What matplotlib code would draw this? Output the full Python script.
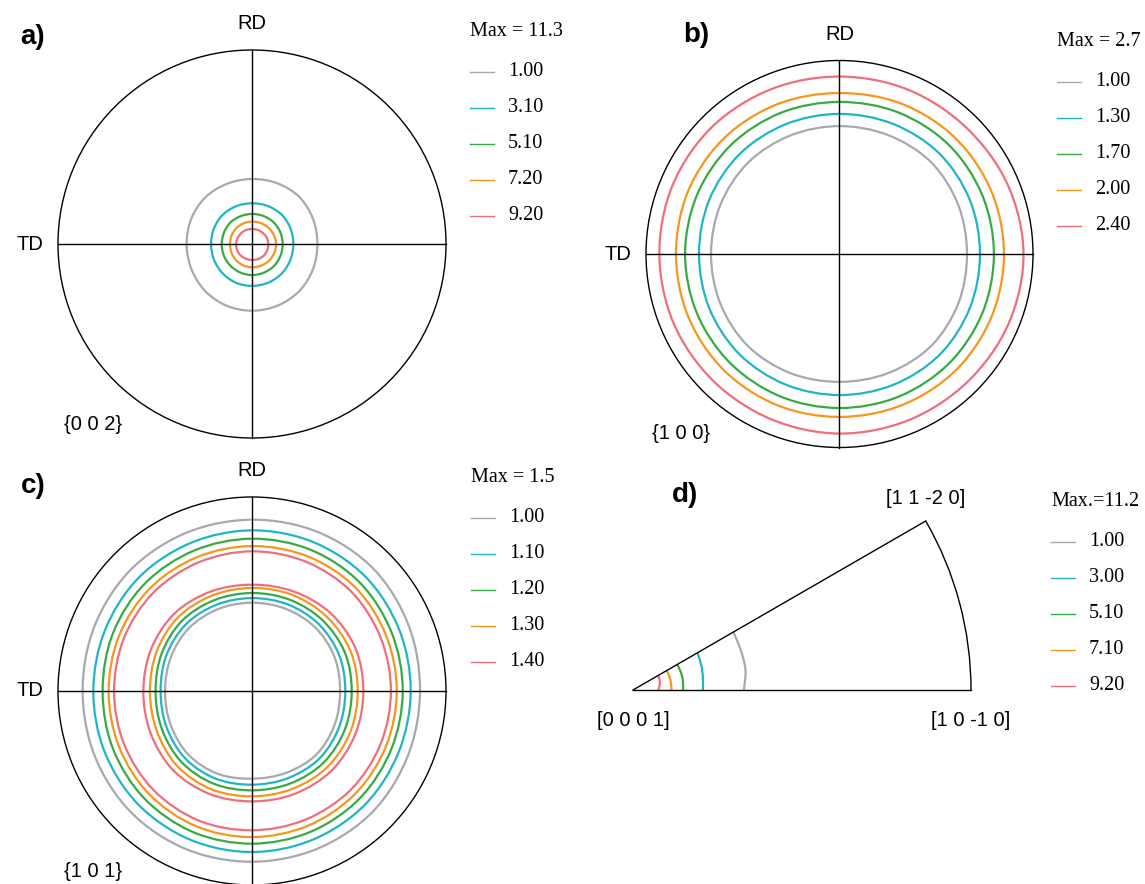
import numpy as np
import matplotlib.pyplot as plt
from matplotlib.patches import Circle, Arc, PathPatch
from matplotlib.path import Path
from matplotlib.lines import Line2D

W, H = 1145, 884
SANS = "Liberation Sans"
SERIF = "Liberation Serif"

# contour colours, lowest level first
COLORS = ["#a8a8b0", "#1fb5c6", "#38a947", "#f5961e", "#ee6e7b"]

# pole-figure contours: radius (fraction of the primitive circle) every 22.5 deg, CCW from TD+
ANGLES = np.arange(0, 360, 22.5)

# (a) {0 0 2}
a_max = "Max = 11.3"
a_levels = ["1.00", "3.10", "5.10", "7.20", "9.20"]
a_r1 = [0.337, 0.340, 0.344, 0.339, 0.335, 0.336, 0.340, 0.339, 0.337, 0.338, 0.342, 0.344, 0.344, 0.344, 0.344, 0.340]
a_r2 = [0.213, 0.214, 0.215, 0.212, 0.210, 0.211, 0.213, 0.212, 0.211, 0.212, 0.214, 0.216, 0.216, 0.216, 0.216, 0.214]
a_r3 = [0.158, 0.158, 0.158, 0.156, 0.155, 0.155, 0.157, 0.156, 0.156, 0.157, 0.158, 0.159, 0.160, 0.160, 0.160, 0.159]
a_r4 = [0.124, 0.122, 0.119, 0.117, 0.115, 0.115, 0.115, 0.114, 0.113, 0.115, 0.117, 0.119, 0.120, 0.121, 0.123, 0.124]
a_r5 = [0.084, 0.083, 0.080, 0.078, 0.077, 0.078, 0.079, 0.080, 0.082, 0.083, 0.083, 0.082, 0.082, 0.084, 0.085, 0.085]

# (b) {1 0 0}
b_max = "Max = 2.7"
b_levels = ["1.00", "1.30", "1.70", "2.00", "2.40"]
b_r1 = [0.659, 0.664, 0.670, 0.664, 0.661, 0.663, 0.668, 0.666, 0.664, 0.667, 0.671, 0.666, 0.661, 0.665, 0.671, 0.665]
b_r2 = [0.726, 0.729, 0.732, 0.727, 0.724, 0.726, 0.730, 0.729, 0.726, 0.729, 0.732, 0.730, 0.729, 0.731, 0.734, 0.729]
b_r3 = [0.798, 0.798, 0.798, 0.792, 0.786, 0.790, 0.795, 0.797, 0.798, 0.798, 0.798, 0.797, 0.796, 0.798, 0.800, 0.799]
b_r4 = [0.850, 0.849, 0.847, 0.840, 0.832, 0.838, 0.845, 0.847, 0.845, 0.846, 0.847, 0.845, 0.842, 0.845, 0.850, 0.850]
b_r5 = [0.951, 0.940, 0.925, 0.920, 0.917, 0.922, 0.930, 0.933, 0.931, 0.929, 0.925, 0.924, 0.928, 0.930, 0.935, 0.945]

# (c) {1 0 1} - every level closes twice: outer ring and inner ring
c_max = "Max = 1.5"
c_levels = ["1.00", "1.10", "1.20", "1.30", "1.40"]
c_out1 = [0.866, 0.875, 0.888, 0.887, 0.883, 0.883, 0.884, 0.878, 0.873, 0.877, 0.883, 0.883, 0.880, 0.880, 0.880, 0.870]
c_out2 = [0.818, 0.822, 0.830, 0.830, 0.828, 0.826, 0.826, 0.820, 0.818, 0.822, 0.828, 0.830, 0.830, 0.828, 0.826, 0.819]
c_out3 = [0.777, 0.780, 0.788, 0.788, 0.785, 0.783, 0.782, 0.776, 0.770, 0.776, 0.784, 0.788, 0.787, 0.786, 0.784, 0.778]
c_out4 = [0.746, 0.748, 0.754, 0.751, 0.747, 0.746, 0.746, 0.742, 0.739, 0.743, 0.751, 0.754, 0.753, 0.752, 0.751, 0.747]
c_out5 = [0.716, 0.718, 0.724, 0.722, 0.720, 0.718, 0.718, 0.714, 0.711, 0.714, 0.720, 0.722, 0.718, 0.718, 0.720, 0.717]
c_in1 = [0.454, 0.460, 0.462, 0.458, 0.455, 0.457, 0.459, 0.453, 0.448, 0.454, 0.464, 0.462, 0.452, 0.457, 0.466, 0.460]
c_in2 = [0.481, 0.486, 0.487, 0.483, 0.479, 0.481, 0.484, 0.478, 0.471, 0.478, 0.489, 0.489, 0.483, 0.486, 0.492, 0.486]
c_in3 = [0.514, 0.518, 0.515, 0.509, 0.505, 0.507, 0.511, 0.504, 0.497, 0.504, 0.516, 0.517, 0.512, 0.516, 0.522, 0.518]
c_in4 = [0.545, 0.548, 0.543, 0.537, 0.531, 0.533, 0.538, 0.532, 0.526, 0.532, 0.546, 0.548, 0.543, 0.546, 0.552, 0.549]
c_in5 = [0.574, 0.577, 0.570, 0.556, 0.548, 0.555, 0.565, 0.563, 0.560, 0.566, 0.576, 0.574, 0.569, 0.574, 0.580, 0.577]

# (d) inverse pole figure, radius from [0 0 0 1] at 0/10/20/30 deg
IPF_ANGLES = [0, 10, 20, 30]
d_max = "Max.=11.2"
d_levels = ["1.00", "3.00", "5.10", "7.10", "9.20"]
d_r1 = [0.328, 0.338, 0.340, 0.343]
d_r2 = [0.207, 0.210, 0.215, 0.220]
d_r3 = [0.148, 0.150, 0.151, 0.151]
d_r4 = [0.114, 0.114, 0.115, 0.115]
d_r5 = [0.075, 0.080, 0.084, 0.086]

fig = plt.figure(figsize=(W / 100, H / 100), dpi=100)
fig.patch.set_facecolor("white")


def smooth_path(x, y, closed):
    """Catmull-Rom curve through the points, as cubic Bezier segments."""
    pts = np.column_stack([x, y])
    n = len(pts)
    if closed:
        ext = np.vstack([pts[-1], pts, pts[0], pts[1]])
        nseg = n
    else:
        ext = np.vstack([pts[0], pts, pts[-1]])
        nseg = n - 1
    verts = [ext[1]]
    codes = [Path.MOVETO]
    for i in range(1, nseg + 1):
        p0, p1, p2, p3 = ext[i - 1], ext[i], ext[i + 1], ext[i + 2]
        verts += [p1 + (p2 - p0) / 6, p2 - (p3 - p1) / 6, p2]
        codes += [Path.CURVE4] * 3
    return Path(verts, codes)


def px_axes(x0, y0, sx, sy, xlim, ylim):
    """Axes whose data origin sits at pixel (x0, y0); sx, sy = pixels per data unit."""
    left = x0 + xlim[0] * sx
    bottom = y0 - ylim[0] * sy
    ax = fig.add_axes([left / W, 1 - bottom / H,
                       (xlim[1] - xlim[0]) * sx / W, (ylim[1] - ylim[0]) * sy / H])
    ax.set_xlim(*xlim)
    ax.set_ylim(*ylim)
    ax.axis("off")
    return ax


def pole_figure(cx, cy, r, rings, hkl):
    ax = px_axes(cx, cy, r, r, (-1.2, 1.2), (-1.2, 1.2))
    ax.add_patch(Circle((0, 0), 1, fill=False, ec="black", lw=1.0))
    ax.plot([-1, 1], [0, 0], color="black", lw=1.0)
    ax.plot([0, 0], [-1, 1], color="black", lw=1.0)
    th = np.deg2rad(ANGLES)
    for radii, col in rings:
        rr = np.array(radii)
        path = smooth_path(rr * np.cos(th), rr * np.sin(th), closed=True)
        ax.add_patch(PathPatch(path, fill=False, ec=col, lw=1.6))
    ax.text(0, 1.135, "RD", family=SANS, fontsize=14.5, ha="center", va="center")
    ax.text(-1.075, 0, "TD", family=SANS, fontsize=14.5, ha="right", va="center")
    ax.text(-0.82, -0.93, hkl, family=SANS, fontsize=14.5, ha="center", va="center")
    return ax


def legend_block(x, y, title, labels):
    fig.text(x / W, 1 - y / H, title, family=SERIF, fontsize=14.5, ha="left", va="center")
    for i, (lab, col) in enumerate(zip(labels, COLORS)):
        yy = 1 - (y + 40 + 36 * i) / H
        fig.add_artist(Line2D([x / W, (x + 24) / W], [yy, yy], color=col, lw=1.0,
                              transform=fig.transFigure))
        fig.text((x + 38) / W, yy, lab, family=SERIF, fontsize=14.5, ha="left", va="center")


def panel_letter(x, y, s):
    fig.text(x / W, 1 - y / H, s, family=SANS, fontsize=20, fontweight="bold",
             ha="center", va="center")


# a) {0 0 2}
pole_figure(252, 244, 194,
            list(zip([a_r1, a_r2, a_r3, a_r4, a_r5], COLORS)), "{0 0 2}")
legend_block(470, 32, a_max, a_levels)
panel_letter(33, 37, "a)")

# b) {1 0 0}
pole_figure(839.5, 254, 193.5,
            list(zip([b_r1, b_r2, b_r3, b_r4, b_r5], COLORS)), "{1 0 0}")
legend_block(1057, 42, b_max, b_levels)
panel_letter(696, 35, "b)")

# c) {1 0 1}
pole_figure(252, 691, 194,
            list(zip([c_out1, c_out2, c_out3, c_out4, c_out5], COLORS))
            + list(zip([c_in1, c_in2, c_in3, c_in4, c_in5], COLORS)), "{1 0 1}")
legend_block(471, 478, c_max, c_levels)
panel_letter(33, 486, "c)")

# d) inverse pole figure (hexagonal standard triangle)
R_IPF = 338
axd = px_axes(633, 690, R_IPF, R_IPF, (-0.15, 1.15), (-0.15, 0.65))
t30 = np.deg2rad(30)
axd.plot([0, 1], [0, 0], color="black", lw=1.0)
axd.plot([0, np.cos(t30)], [0, np.sin(t30)], color="black", lw=1.0)
axd.add_patch(Arc((0, 0), 2, 2, theta1=0, theta2=30, color="black", lw=1.0))
tip = np.deg2rad(IPF_ANGLES)
for radii, col in zip([d_r1, d_r2, d_r3, d_r4, d_r5], COLORS):
    rr = np.array(radii)
    path = smooth_path(rr * np.cos(tip), rr * np.sin(tip), closed=False)
    axd.add_patch(PathPatch(path, fill=False, ec=col, lw=1.6))
axd.text(0, -0.09, "[0 0 0 1]", family=SANS, fontsize=14.5, ha="center", va="center")
axd.text(1.0, -0.09, "[1 0 -1 0]", family=SANS, fontsize=14.5, ha="center", va="center")
axd.text(0.867, 0.568, "[1 1 -2 0]", family=SANS, fontsize=14.5, ha="center", va="center")
legend_block(1051, 502, d_max, d_levels)
panel_letter(685, 495, "d)")

fig.savefig("out.png", dpi=100, facecolor="white")
